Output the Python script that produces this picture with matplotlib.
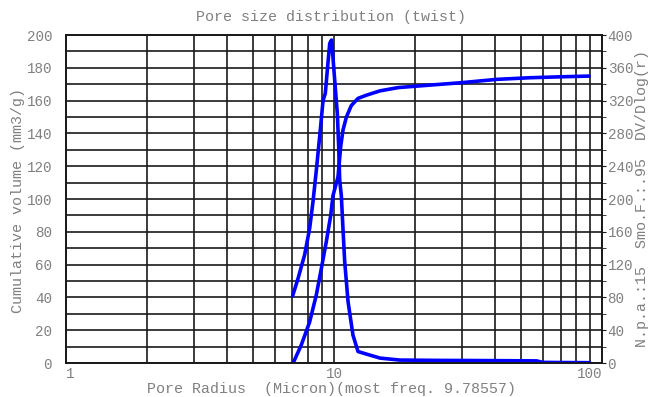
import numpy as np
import matplotlib.pyplot as plt
from matplotlib.ticker import FixedLocator, NullFormatter

# pore radius (micron) and cumulative volume (mm3/g)
cum_r = [7.04, 7.55, 8.11, 8.59, 8.97, 9.36, 9.72, 9.91, 10.35, 10.59, 10.80,
         11.12, 11.60, 12.29, 13.24, 14.85, 17.38, 22.8, 30.0, 40.5, 53.9,
         71.5, 89.4]
cum_vol = [0, 11, 25, 41.5, 57.7, 74, 90, 102, 113.6, 132, 142,
           150, 157, 161.4, 163.4, 166, 168, 169.5, 171, 173, 174,
           174.6, 175]

# pore radius and DV/Dlog(r)
dist_r = [7.01, 7.34, 7.77, 8.11, 8.35, 8.59, 8.84, 9.10, 9.28, 9.44, 9.64,
          9.79, 9.86, 10.06, 10.29, 10.41, 10.50, 10.65, 10.80, 10.96, 11.28,
          11.77, 12.29, 12.87, 14.85, 17.6, 25, 35, 45, 57, 60, 70, 90]
dist_val = [82, 103, 132, 164, 197, 235, 276, 320, 329, 357, 390,
            394, 382, 345, 304, 264, 223, 204, 164, 124, 75,
            34, 14, 12, 6, 3.6, 3.2, 3, 2.8, 2.6, 0.8, 0.6, 0.4]

left_ticks = [0, 20, 40, 60, 80, 100, 120, 140, 160, 180, 200]
right_ticks = [0, 40, 80, 120, 160, 200, 240, 280, 320, 360, 400]
x_ticks = [1, 10, 100]

txt = '#808080'
mono = 'Liberation Mono'

fig = plt.figure(figsize=(6.53, 3.97), dpi=100)
ax = fig.add_axes([0.101, 0.0856, 0.821, 0.826])
ax2 = ax.twinx()

ax.set_xscale('log')
ax.set_xlim(1, 100)
ax.set_ylim(0, 200)
ax2.set_ylim(0, 400)

# grid: log decades in x, every 10 units in y
ax.xaxis.set_major_locator(FixedLocator(x_ticks))
minor_x = [m * d for d in (1, 10) for m in range(2, 10)]
ax.xaxis.set_minor_locator(FixedLocator(minor_x))
ax.xaxis.set_minor_formatter(NullFormatter())
ax.set_yticks(left_ticks)
ax.set_yticks(np.arange(10, 200, 20), minor=True)
ax.grid(True, which='both', color='#1a1a1a', lw=1.2)
ax.set_axisbelow(True)

ax.set_xticklabels([])
for xv, ha in zip(x_ticks, ['left', 'center', 'right']):
    ax.text(xv, -2.5, str(xv), ha=ha, va='top', color=txt, family=mono,
            fontsize=10.3)

ax.tick_params(axis='both', which='both', length=0, colors=txt,
               labelsize=10.3, pad=10)
for lab in ax.get_yticklabels():
    lab.set_family(mono)

ax2.set_yticks(right_ticks)
ax2.set_yticks(np.arange(20, 400, 40), minor=True)
ax2.tick_params(axis='y', which='both', length=3, colors=txt,
                labelsize=10.3, pad=1)
ax2.tick_params(axis='y', which='both', color='#1a1a1a')
for lab in ax2.get_yticklabels():
    lab.set_family(mono)

for a in (ax, ax2):
    for sp in a.spines.values():
        sp.set_color('#1a1a1a')
        sp.set_linewidth(1.3)

ax.plot(cum_r, cum_vol, color='#0000ff', lw=2.6, solid_capstyle='round')
ax2.plot(dist_r, dist_val, color='#0000ff', lw=2.6, solid_capstyle='round')

fig.text(0.507, 0.957, 'Pore size distribution (twist)', ha='center',
         va='center', color=txt, family=mono, fontsize=10.8)
fig.text(0.508, 0.003, 'Pore Radius  (Micron)(most freq. 9.78557)',
         ha='center', va='bottom', color=txt, family=mono, fontsize=10.8)
fig.text(0.028, 0.494, 'Cumulative volume (mm3/g)', rotation=90,
         ha='center', va='center', color=txt, family=mono, fontsize=10.8)
fig.text(0.983, 0.499, 'N.p.a.:15  Smo.F.:.95  DV/Dlog(r)', rotation=90,
         ha='center', va='center', color=txt, family=mono, fontsize=10.8)

fig.savefig('out.png', dpi=100, facecolor='white')
